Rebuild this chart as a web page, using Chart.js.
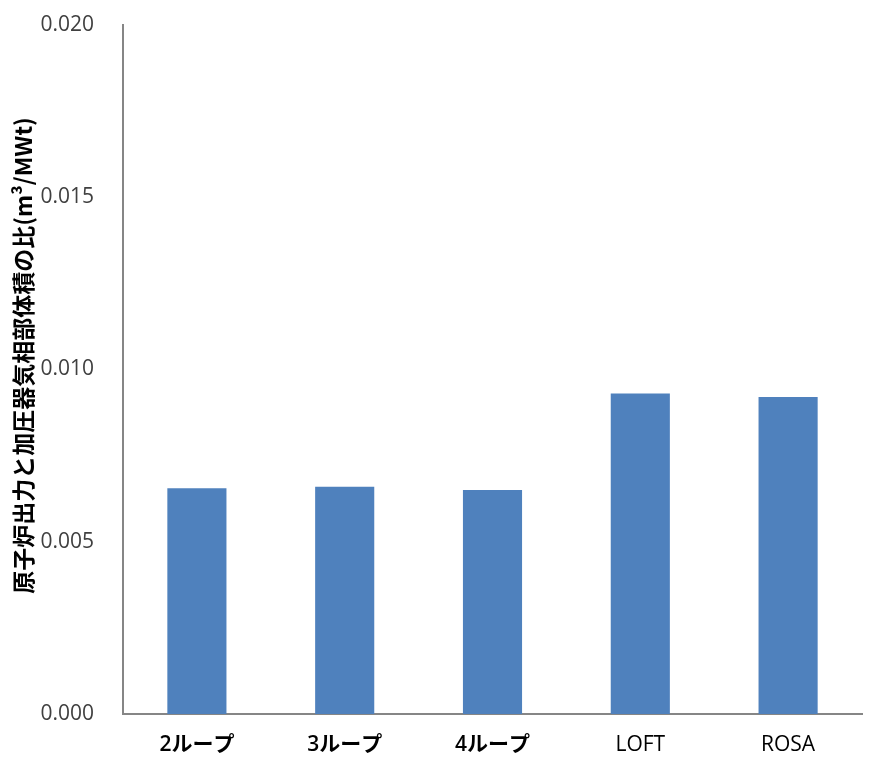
<!DOCTYPE html>
<html>
<head>
<meta charset="utf-8">
<script src="https://cdn.jsdelivr.net/npm/chart.js@4.4.1/dist/chart.umd.min.js"></script>
<style>
  html, body { margin: 0; padding: 0; background: #fff; }
  #wrap { width: 872px; height: 758px; }
</style>
</head>
<body>
<div id="wrap"><canvas id="chartCanvas"></canvas></div>
<script>
  // data
  const categories = ["2ループ", "3ループ", "4ループ", "LOFT", "ROSA"];
  const ratioValues = [0.00655, 0.0066, 0.0065, 0.0093, 0.0092];
  const yTicks = { min: 0, max: 0.02, step: 0.005 };
  const yTitle = "原子炉出力と加圧器気相部体積の比(m³/MWt)";

  const axisGrey = "#868686";

  // vertical axis title, drawn a bit above the plot centre like the original
  const sideTitle = {
    id: "sideTitle",
    afterDraw(chart) {
      const ctx = chart.ctx;
      const area = chart.chartArea;
      ctx.save();
      ctx.translate(23, (area.top + area.bottom) / 2 - 14);
      ctx.rotate(-Math.PI / 2);
      ctx.font = "bold 23px 'Noto Sans CJK JP', 'Noto Sans', sans-serif";
      ctx.fillStyle = "#000";
      ctx.textAlign = "center";
      ctx.textBaseline = "middle";
      ctx.fillText(yTitle, 0, 0);
      ctx.restore();
    },
  };

  new Chart(document.getElementById("chartCanvas"), {
    type: "bar",
    data: {
      labels: categories,
      datasets: [
        {
          data: ratioValues,
          backgroundColor: "#4F81BD",
          barPercentage: 0.4,
          categoryPercentage: 1.0,
        },
      ],
    },
    options: {
      responsive: true,
      maintainAspectRatio: false,
      animation: false,
      layout: { padding: { top: 25, right: 10, left: 0, bottom: 0 } },
      plugins: {
        legend: { display: false },
        tooltip: { enabled: false },
      },
      scales: {
        x: {
          grid: { display: false, drawTicks: false },
          border: { display: true, color: axisGrey, width: 2 },
          ticks: {
            color: "#000",
            padding: 18,
            // the Japanese labels look heavier than LOFT / ROSA
            font: (c) => ({
              family: "'Open Sans', 'Noto Sans CJK JP', sans-serif",
              size: 21,
              weight: c.index < 3 ? "600" : "normal",
            }),
          },
          afterFit(scale) { scale.height = 44; },
        },
        y: {
          min: yTicks.min,
          max: yTicks.max,
          grid: { display: false, drawTicks: false },
          border: { display: true, color: axisGrey, width: 2 },
          ticks: {
            stepSize: yTicks.step,
            color: "#404040",
            padding: 29,
            font: { family: "'Open Sans', sans-serif", size: 21 },
            callback: (v) => v.toFixed(3),
          },
          afterFit(scale) {
            scale.width = 123;
            scale.paddingTop = 0;
            scale.paddingBottom = 0;
          },
        },
      },
    },
    plugins: [sideTitle],
  });
</script>
</body>
</html>
